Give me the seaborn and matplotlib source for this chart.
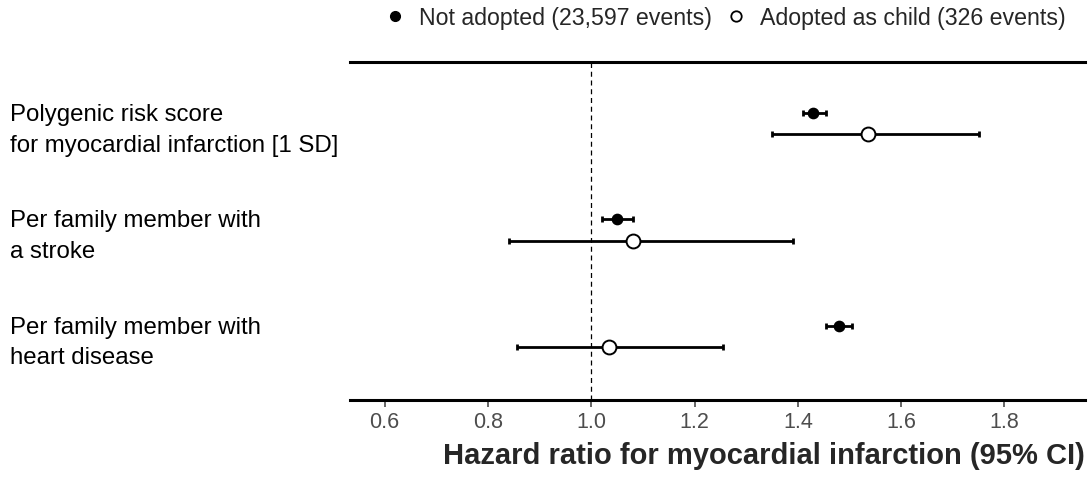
import matplotlib
matplotlib.use("Agg")
import matplotlib.pyplot as plt
import seaborn as sns
import numpy as np
import pandas as pd
from matplotlib.lines import Line2D

# Hazard ratios
variables = ["Polygenic risk score\nfor myocardial infarction [1 SD]",
             "Per family member with\na stroke",
             "Per family member with\nheart disease"]
groups = ["Not adopted (23,597 events)", "Adopted as child (326 events)"]

hr_not = [1.43, 1.05, 1.48]
lo_not = [1.41, 1.02, 1.455]
hi_not = [1.455, 1.08, 1.505]

hr_adopt = [1.535, 1.08, 1.035]
lo_adopt = [1.35, 0.84, 0.857]
hi_adopt = [1.75, 1.39, 1.255]

x_ticks = [0.6, 0.8, 1.0, 1.2, 1.4, 1.6, 1.8]

rows = []
for i, v in enumerate(variables):
    rows.append({"var": v, "idx": i, "group": groups[0], "hr": hr_not[i], "lo": lo_not[i], "hi": hi_not[i]})
    rows.append({"var": v, "idx": i, "group": groups[1], "hr": hr_adopt[i], "lo": lo_adopt[i], "hi": hi_adopt[i]})
df = pd.DataFrame(rows)
offset = {groups[0]: -0.1, groups[1]: 0.1}
df["ypos"] = df["idx"] + df["group"].map(offset)

sns.set_theme(style="white")
plt.rcParams["font.family"] = ["Liberation Sans", "DejaVu Sans"]

fig = plt.figure(figsize=(10.91, 4.83), dpi=100)
ax = fig.add_axes([350 / 1091, 83 / 483, 735 / 1091, 338 / 483])

# reference line at HR = 1
ax.axvline(1.0, color="black", linestyle=(0, (4, 3)), linewidth=0.9, zorder=1)

# confidence intervals
ax.errorbar(df["hr"], df["ypos"], xerr=[df["hr"] - df["lo"], df["hi"] - df["hr"]],
            fmt="none", ecolor="black", elinewidth=2, capsize=2, capthick=2, zorder=2)

not_df = df[df["group"] == groups[0]]
adopt_df = df[df["group"] == groups[1]]
sns.scatterplot(data=not_df, x="hr", y="ypos", ax=ax, color="black", s=55,
                edgecolor="black", linewidth=1, zorder=3, legend=False)
sns.scatterplot(data=adopt_df, x="hr", y="ypos", ax=ax, facecolor="white", s=100,
                edgecolor="black", linewidth=1.4, zorder=3, legend=False)

ax.set_xlim(0.533, 1.956)
ax.set_ylim(2.6, -0.58)
ax.set_xticks(x_ticks)
ax.set_xticklabels([f"{t:.1f}" for t in x_ticks], color="#4d4d4d", fontsize=15.5)
ax.tick_params(axis="x", length=5, width=1.2, color="#4d4d4d", pad=4, bottom=True)

ax.set_yticks(range(len(variables)))
ax.set_yticklabels(variables, fontsize=17.3, color="black", linespacing=1.5)
ax.tick_params(axis="y", length=0, pad=340 * 72 / 100)
for lab in ax.get_yticklabels():
    lab.set_horizontalalignment("left")

for side in ["left", "right"]:
    ax.spines[side].set_visible(False)
for side in ["top", "bottom"]:
    ax.spines[side].set_color("black")
    ax.spines[side].set_linewidth(2.2)

ax.set_xlabel("Hazard ratio for myocardial infarction (95% CI)", fontsize=21,
              fontweight="bold", loc="right", labelpad=6)
ax.set_ylabel("")

handles = [Line2D([], [], marker="o", linestyle="none", color="black", markersize=7),
           Line2D([], [], marker="o", linestyle="none", markerfacecolor="white",
                  markeredgecolor="black", markeredgewidth=1.3, markersize=7.5)]
fig.legend(handles, groups, loc="center", bbox_to_anchor=(725.5 / 1091, 1 - 18 / 483),
           ncol=2, frameon=False, fontsize=16.7, handletextpad=0.63, columnspacing=0.63,
           handlelength=0.8)

plt.savefig("out.png", dpi=100)
